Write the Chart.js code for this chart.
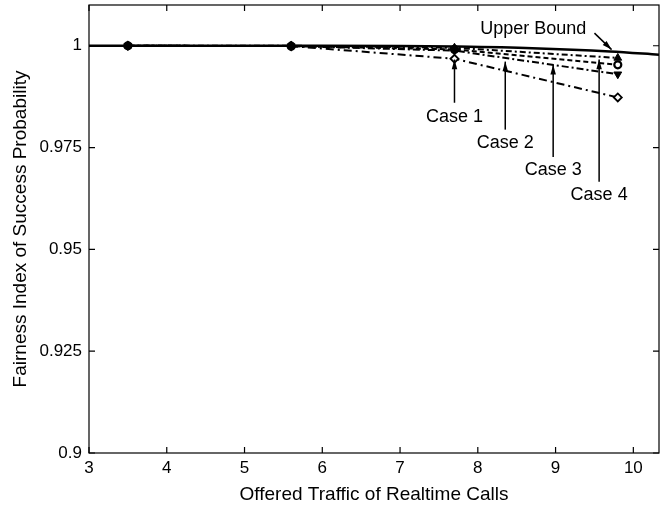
<!DOCTYPE html>
<html>
<head>
<meta charset="utf-8">
<script src="https://cdn.jsdelivr.net/npm/chart.js@4.4.1/dist/chart.umd.min.js"></script>
<style>
html,body{margin:0;padding:0;background:#fff;}
#wrap{width:660px;height:507px;}
</style>
</head>
<body>
<div id="wrap"><canvas id="c" width="660" height="507"></canvas></div>
<script>
// ---- data ----
const traffic = [3.5, 5.6, 7.7, 9.8];
const case1 = [1.0, 0.9999, 0.9968, 0.9873];
const case2 = [1.0, 0.9999, 0.9988, 0.9930];
const case3 = [1.0, 0.9999, 0.9991, 0.9953];
const case4 = [1.0, 1.0, 0.9995, 0.9970];
const upperX = [3.0, 5.6, 7.0, 7.7, 8.7, 9.7, 10.33];
const upperY = [1.0, 1.0, 0.99995, 0.9998, 0.9994, 0.9986, 0.9978];
const xTicks = [3, 4, 5, 6, 7, 8, 9, 10];
const yTicks = [0.9, 0.925, 0.95, 0.975, 1.0];

const FONT = '"Liberation Sans", Arial, Helvetica, sans-serif';
const pts = (xs, ys) => xs.map((x, i) => ({x: x, y: ys[i]}));

// annotations in data units
const notes = [
  {text: 'Upper Bound', tx: 8.712, ty: 1.0040, x1: 9.50, y1: 1.0031, x2: 9.72, y2: 0.99905},
  {text: 'Case 1', tx: 7.70, ty: 0.9826, x1: 7.70, y1: 0.9860, x2: 7.70, y2: 0.9966},
  {text: 'Case 2', tx: 8.353, ty: 0.9762, x1: 8.353, y1: 0.9794, x2: 8.353, y2: 0.9961},
  {text: 'Case 3', tx: 8.969, ty: 0.9695, x1: 8.969, y1: 0.9727, x2: 8.969, y2: 0.9953},
  {text: 'Case 4', tx: 9.56, ty: 0.9634, x1: 9.56, y1: 0.9666, x2: 9.56, y2: 0.9966}
];

const frame = {
  id: 'frame',
  afterDraw(chart) {
    const ctx = chart.ctx, a = chart.chartArea;
    const xs = chart.scales.x, ys = chart.scales.y;
    ctx.save();
    ctx.strokeStyle = '#000';
    ctx.lineWidth = 1.2;
    ctx.strokeRect(a.left, a.top, a.right - a.left, a.bottom - a.top);
    ctx.beginPath();
    xTicks.forEach(v => {
      const p = xs.getPixelForValue(v);
      ctx.moveTo(p, a.bottom); ctx.lineTo(p, a.bottom - 6);
      ctx.moveTo(p, a.top); ctx.lineTo(p, a.top + 6);
    });
    yTicks.forEach(v => {
      const p = ys.getPixelForValue(v);
      ctx.moveTo(a.left, p); ctx.lineTo(a.left + 6, p);
      ctx.moveTo(a.right, p); ctx.lineTo(a.right - 6, p);
    });
    ctx.stroke();
    // annotations
    ctx.fillStyle = '#000';
    ctx.font = '18px ' + FONT;
    ctx.textAlign = 'center';
    ctx.textBaseline = 'middle';
    ctx.lineWidth = 1.5;
    notes.forEach(n => {
      ctx.fillText(n.text, xs.getPixelForValue(n.tx), ys.getPixelForValue(n.ty));
      const x1 = xs.getPixelForValue(n.x1), y1 = ys.getPixelForValue(n.y1);
      const x2 = xs.getPixelForValue(n.x2), y2 = ys.getPixelForValue(n.y2);
      ctx.beginPath(); ctx.moveTo(x1, y1); ctx.lineTo(x2, y2); ctx.stroke();
      const ang = Math.atan2(y2 - y1, x2 - x1), L = 10, W = 0.28;
      ctx.beginPath();
      ctx.moveTo(x2, y2);
      ctx.lineTo(x2 - L * Math.cos(ang - W), y2 - L * Math.sin(ang - W));
      ctx.lineTo(x2 - L * Math.cos(ang + W), y2 - L * Math.sin(ang + W));
      ctx.closePath(); ctx.fill();
    });
    ctx.restore();
  }
};

const caseStyle = (label, data, dash, style, fill, r, bw, rot) => ({
  label: label, data: pts(traffic, data),
  borderColor: '#000', backgroundColor: fill, borderWidth: 2,
  borderDash: dash, pointStyle: style, pointRadius: r, pointRotation: rot || 0,
  pointBorderColor: '#000', pointBackgroundColor: fill, pointBorderWidth: bw,
  showLine: true, tension: 0
});

const noPad = s => { s.paddingTop = 0; s.paddingBottom = 0; s.paddingLeft = 0; s.paddingRight = 0; };

new Chart(document.getElementById('c'), {
  type: 'scatter',
  data: {
    datasets: [
      {label: 'Upper Bound', data: pts(upperX, upperY), borderColor: '#000', borderWidth: 2.5,
       pointRadius: 0, showLine: true, cubicInterpolationMode: 'monotone'},
      caseStyle('Case 4', case4, [6, 3, 2, 3], 'triangle', '#000', 4.5, 1),
      caseStyle('Case 2', case2, [7, 3, 2, 3], 'triangle', '#000', 4.5, 1, 180),
      caseStyle('Case 3', case3, [5, 3], 'circle', '#fff', 3.5, 2.2),
      caseStyle('Case 1', case1, [8, 4, 2, 4], 'rectRot', '#fff', 4, 1.8)
    ]
  },
  options: {
    responsive: false,
    animation: false,
    events: [],
    layout: {autoPadding: false, padding: {top: 5, right: 1, left: 0, bottom: 0}},
    plugins: {legend: {display: false}, tooltip: {enabled: false}},
    scales: {
      x: {
        type: 'linear', min: 3, max: 10.33,
        afterBuildTicks: s => { s.ticks = xTicks.map(v => ({value: v})); },
        afterFit: s => { s.height = 54; noPad(s); },
        grid: {display: false, drawTicks: false},
        border: {display: false},
        ticks: {color: '#000', font: {size: 17, family: FONT}, padding: 5, maxRotation: 0,
                callback: v => String(v)},
        title: {display: true, text: 'Offered Traffic of Realtime Calls', color: '#000',
                font: {size: 19, family: FONT}, padding: {top: 8, bottom: 1}}
      },
      y: {
        type: 'linear', min: 0.9, max: 1.01,
        afterBuildTicks: s => { s.ticks = yTicks.map(v => ({value: v})); },
        afterFit: s => { s.width = 89; noPad(s); },
        grid: {display: false, drawTicks: false},
        border: {display: false},
        ticks: {color: '#000', font: {size: 17, family: FONT}, padding: 7,
                callback: v => String(parseFloat(v.toFixed(3)))},
        title: {display: true, text: 'Fairness Index of Success Probability', color: '#000',
                font: {size: 19, family: FONT}, padding: {top: 9, bottom: 4}}
      }
    }
  },
  plugins: [frame]
});
</script>
</body>
</html>
